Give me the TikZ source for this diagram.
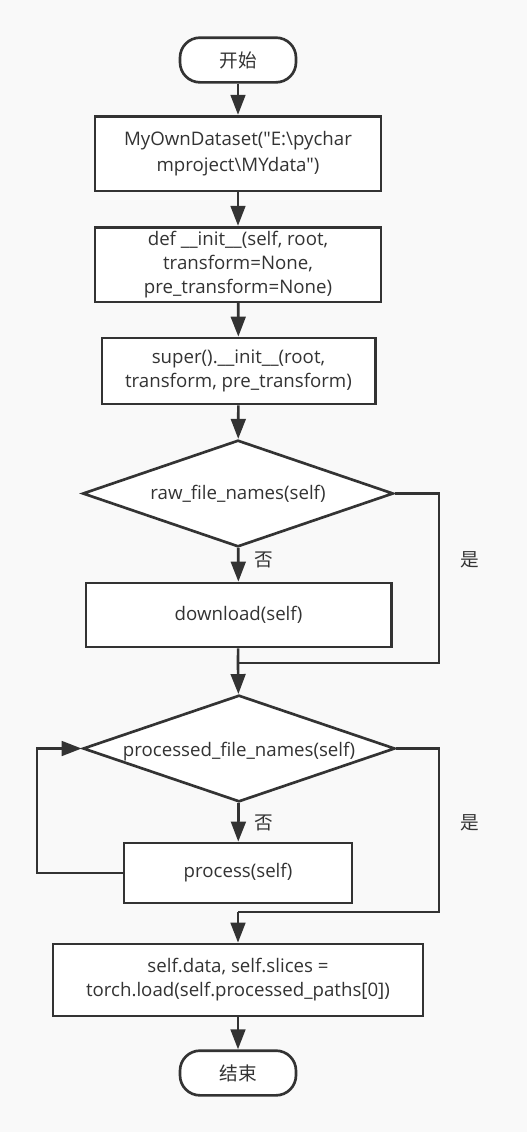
\documentclass[tikz,border=0pt]{standalone}
\usepackage{fontspec}
\defaultfontfeatures[\rmfamily]{}
\setmainfont{Open Sans}
\newfontfamily\cjk{Noto Sans CJK SC}
\usepackage{tikz}
\usetikzlibrary{arrows.meta,shapes.geometric}

\definecolor{linegray}{HTML}{333333}
\definecolor{paper}{HTML}{F9F9F9}

\tikzset{
    termbox/.style={draw, fill=white, rounded corners=15pt, minimum width=87pt, minimum height=33.5pt, inner sep=0pt},
    procbox/.style={draw, fill=white, align=center, inner sep=0pt},
    decbox/.style={diamond, draw, fill=white, inner sep=0pt, minimum width=233pt, minimum height=80pt},
}

\begin{document}
\begin{tikzpicture}[>={Triangle[length=15pt,width=11pt]}, x=0.75pt, y=-0.75pt, line width=2pt, color=linegray, font=\fontsize{14}{18}\selectfont]
    % Background
    \fill [paper] (0,0) rectangle (527,1132);

    % Nodes
    \node [termbox] 		(start) at (238,60)     {\cjk 开始};
    \node [procbox, minimum width=214.5pt, minimum height=56pt, font=\fontsize{14}{19}\selectfont] (ds) at (238,153.5) {MyOwnDataset("E:\textbackslash pychar\\mproject\textbackslash MYdata")};
    \node [procbox, minimum width=214.5pt, minimum height=56pt] (init)  at (238,264.5)  {def \_\_init\_\_(self, root,\\transform=None,\\pre\_transform=None)};
    \node [procbox, minimum width=205pt, minimum height=49.5pt] (super) at (238.5,371)  {super().\_\_init\_\_(root,\\transform, pre\_transform)};
    \node [decbox, label={center:raw\_file\_names(self)}] (raw) at (238,493.5) {};
    \node [procbox, minimum width=229pt, minimum height=48pt]   (dl)    at (238.5,615)  {download(self)};
    \node [decbox, minimum width=234pt, label={[yshift=-2pt]center:processed\_file\_names(self)}] (processed) at (239,748.5) {};
    \node [procbox, minimum width=171pt, minimum height=45pt]   (process) at (238,873)  {process(self)};
    \node [procbox, minimum width=277.5pt, minimum height=54pt] (load)  at (238,980)    {self.data, self.slices =\\torch.load(self.processed\_paths[0])};
    \node [termbox] 		(stop)  at (238,1073)   {\cjk 结束};

    % Labels
    \node (no1)  at (264,560) {\cjk 否};
    \node (yes1) at (470,560) {\cjk 是};
    \node (no2)  at (264,823) {\cjk 否};
    \node (yes2) at (470,823) {\cjk 是};

    % Corners
    \coordinate (r1) at (439,663);
    \coordinate (m1) at (238,663);
    \coordinate (l2) at (37,748.5);
    \coordinate (r2) at (439,912);
    \coordinate (m2) at (238,912);

    % Paths
    \path [->] 	(start) edge 	(ds);
    \path [->] 	(ds) edge 		(init);
    \path [->] 	(init) edge 	(super);
    \path [->] 	(super) edge 	(raw);
    \path [->] 	(raw) edge 		(dl);
    \draw 		(raw.east) -| (r1) -- (m1);
    \draw 		(dl) -- (m1);
    \path [->] 	(m1) edge 		(processed);
    \path [->] 	(processed) edge (process);
    \draw [->] 	(process.west) -| (l2) -- (processed.west);
    \draw 		(processed.east) -| (r2) -- (m2);
    \path [->] 	(m2) edge 		(load);
    \path [->] 	(load) edge 	(stop);

\end{tikzpicture}
\end{document}
